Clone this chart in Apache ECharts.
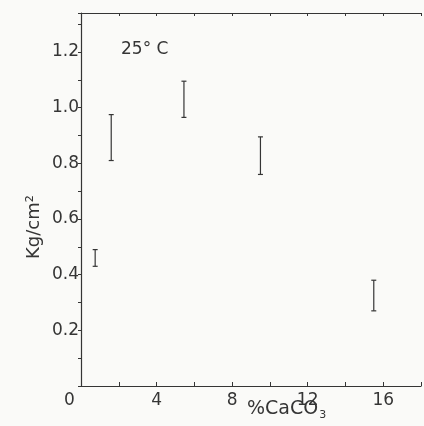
<!DOCTYPE html>
<html>
<head>
<meta charset="utf-8">
<script src="https://cdn.jsdelivr.net/npm/echarts@6/dist/echarts.min.js"></script>
<style>
  html, body { margin: 0; padding: 0; background: #fafaf8; }
  #chart { width: 424px; height: 426px; }
</style>
</head>
<body>
<div id="chart"></div>
<script>
// %CaCO3 position of each measurement and the spread (low / high) in Kg/cm2
const caco3 = [0.75, 1.6, 5.45, 9.5, 15.5]
const strengthLow = [0.43, 0.81, 0.965, 0.76, 0.27]
const strengthHigh = [0.49, 0.975, 1.095, 0.895, 0.38]
const xTickLabels = [4, 8, 12, 16]

const ink = '#353535'
const font = 'DejaVu Sans'

const bars = caco3.map((x, i) => [x, strengthLow[i], strengthHigh[i]])

const chart = echarts.init(document.getElementById('chart'))
chart.setOption({
  backgroundColor: '#fafaf8',
  animation: false,
  grid: { left: 81, right: 0, top: 13, bottom: 40 },
  xAxis: [{
    type: 'value',
    min: 0,
    max: 18,
    interval: 2,
    splitLine: { show: false },
    axisLine: { lineStyle: { color: ink, width: 1.2 } },
    axisTick: { inside: true, length: 4, lineStyle: { color: ink } },
    axisLabel: {
      color: ink,
      fontFamily: font,
      fontSize: 17,
      margin: 6,
      formatter: v => (xTickLabels.indexOf(v) >= 0 ? String(v) : '')
    }
  }, {
    type: 'value',
    position: 'top',
    min: 0,
    max: 18,
    interval: 2,
    splitLine: { show: false },
    axisLine: { lineStyle: { color: ink, width: 1.2 } },
    axisTick: { inside: true, length: 3, lineStyle: { color: ink } },
    axisLabel: { show: false }
  }],
  yAxis: {
    type: 'value',
    min: 0,
    max: 1.34,
    interval: 0.1,
    splitLine: { show: false },
    axisLine: { lineStyle: { color: ink, width: 1.2 } },
    axisTick: { length: 3, lineStyle: { color: ink } },
    axisLabel: {
      color: ink,
      fontFamily: font,
      fontSize: 17,
      margin: 2,
      formatter: v => {
        const k = Math.round(v * 10)
        return k > 0 && k % 2 === 0 ? (k / 10).toFixed(1) : ''
      }
    }
  },
  graphic: [
    { type: 'text', left: 64, top: 392, style: { text: '0', font: '17px DejaVu Sans', fill: ink } },
    { type: 'text', left: 121, top: 41, style: { text: '25° C', font: '17px DejaVu Sans', fill: ink } },
    {
      type: 'text', left: 247, top: 400,
      style: {
        text: '{m|%CaCO}{s|3}',
        rich: {
          m: { fontFamily: font, fontSize: 19, fill: ink, color: ink },
          s: { fontFamily: font, fontSize: 11, fill: ink, color: ink, padding: [12, 0, 0, 1] }
        }
      }
    },
    {
      type: 'text', x: 25, y: 259, rotation: Math.PI / 2,
      style: { text: 'Kg/cm²', font: '18px DejaVu Sans', fill: ink }
    }
  ],
  series: [{
    type: 'custom',
    data: bars,
    renderItem(params, api) {
      const lo = api.coord([api.value(0), api.value(1)])
      const hi = api.coord([api.value(0), api.value(2)])
      const cap = 2.5
      const style = { stroke: ink, lineWidth: 1.2 }
      return {
        type: 'group',
        children: [
          { type: 'line', shape: { x1: lo[0], y1: lo[1], x2: hi[0], y2: hi[1] }, style },
          { type: 'line', shape: { x1: lo[0] - cap, y1: lo[1], x2: lo[0] + cap, y2: lo[1] }, style },
          { type: 'line', shape: { x1: hi[0] - cap, y1: hi[1], x2: hi[0] + cap, y2: hi[1] }, style }
        ]
      }
    }
  }]
})
</script>
</body>
</html>
